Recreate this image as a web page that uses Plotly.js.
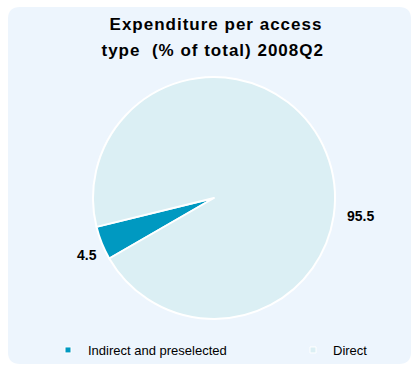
<!DOCTYPE html>
<html>
<head>
<meta charset="utf-8">
<script src="https://cdn.plot.ly/plotly-3.0.1.min.js"></script>
<style>
html,body{margin:0;padding:0;background:#fff;}
#chart{width:412px;height:365px;}
#chart .gtitle, #chart .annotation[data-index="0"] text{letter-spacing:1px;}
</style>
</head>
<body>
<div id="chart"></div>
<script>
// ---- data ----
var categories = ["Indirect and preselected", "Direct"];
var values = [4.5, 95.5];
var colors = ["#0099C1", "#DBEFF4"];
var titleLine1 = "Expenditure per access";
var titleLine2 = "type  (% of total) 2008Q2";

// ---- layout helpers (pixel -> paper, margins are 0) ----
var W = 412, H = 365;
function px(x){ return x / W; }
function py(y){ return 1 - y / H; }

var FONT = "Liberation Sans, Arial, sans-serif";

// rounded background panel
var x0 = px(8), x1 = px(411), yt = py(7), yb = py(364);
var rx = 12 / W, ry = 12 / H;
var panelPath = "M" + (x0+rx) + "," + yt + " L" + (x1-rx) + "," + yt +
  " Q" + x1 + "," + yt + " " + x1 + "," + (yt-ry) +
  " L" + x1 + "," + (yb+ry) +
  " Q" + x1 + "," + yb + " " + (x1-rx) + "," + yb +
  " L" + (x0+rx) + "," + yb +
  " Q" + x0 + "," + yb + " " + x0 + "," + (yb+ry) +
  " L" + x0 + "," + (yt-ry) +
  " Q" + x0 + "," + yt + " " + (x0+rx) + "," + yt + " Z";

var pie = {
  type: "pie",
  labels: categories,
  values: values,
  sort: false,
  direction: "clockwise",
  rotation: 240,
  textinfo: "none",
  hoverinfo: "label+value",
  showlegend: false,
  marker: { colors: colors, line: { color: "#FFFFFF", width: 2 } },
  domain: { x: [px(93), px(335)], y: [py(319), py(77)] }
};

// legend entries (small square markers like the original), one legend box each
var legendNames = ["legend", "legend2"];
var legendTraces = categories.map(function(c, i){
  return {
    type: "scatter", mode: "markers", x: [null], y: [null],
    name: c, showlegend: true, hoverinfo: "skip", legend: legendNames[i],
    marker: { symbol: "square", size: 6, color: colors[i], line: { color: "#FFFFFF", width: 1 } }
  };
});

// value labels
var labelPos = [[87, 255], [360, 216]];
var labelAnn = values.map(function(v, i){
  return {
    text: "<b>" + v.toFixed(1) + "</b>",
    xref: "paper", yref: "paper",
    x: px(labelPos[i][0]), y: py(labelPos[i][1]),
    xanchor: "center", yanchor: "middle", showarrow: false,
    font: { family: FONT, size: 14, color: "#000000" }
  };
});

var legendFont = { family: FONT, size: 13, color: "#000000" };

var layout = {
  width: W, height: H,
  margin: { l: 0, r: 0, t: 0, b: 0 },
  paper_bgcolor: "#FFFFFF",
  plot_bgcolor: "rgba(0,0,0,0)",
  title: {
    text: "<b>" + titleLine1 + "</b>",
    x: px(216), xanchor: "center",
    y: py(24), yanchor: "middle", yref: "container",
    font: { family: FONT, size: 17, color: "#000000" }
  },
  xaxis: { visible: false, range: [0, 1], fixedrange: true },
  yaxis: { visible: false, range: [0, 1], fixedrange: true },
  showlegend: true,
  legend: {
    orientation: "h",
    x: px(48), xanchor: "left",
    y: py(350), yanchor: "middle",
    bgcolor: "rgba(0,0,0,0)",
    font: legendFont
  },
  legend2: {
    orientation: "h",
    x: px(293), xanchor: "left",
    y: py(350), yanchor: "middle",
    bgcolor: "rgba(0,0,0,0)",
    font: legendFont
  },
  shapes: [{
    type: "path", xref: "paper", yref: "paper", layer: "below",
    path: panelPath, fillcolor: "#EDF5FD", line: { width: 0 }
  }],
  annotations: [{
    text: "<b>" + titleLine2 + "</b>",
    xref: "paper", yref: "paper",
    x: px(212), y: py(50), xanchor: "center", yanchor: "middle",
    showarrow: false,
    font: { family: FONT, size: 17, color: "#000000" }
  }].concat(labelAnn)
};

Plotly.newPlot("chart", [pie].concat(legendTraces), layout, { displayModeBar: false, staticPlot: true });
</script>
</body>
</html>
